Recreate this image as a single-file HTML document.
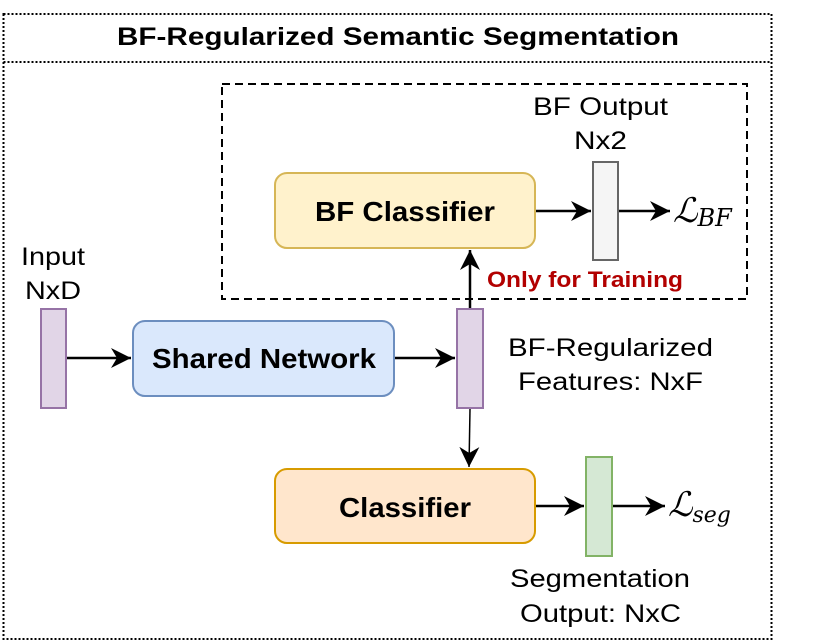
<!DOCTYPE html>
<html><head><meta charset="utf-8"><style>html,body{margin:0;padding:0;background:#fff}svg{display:block}</style></head>
<body>
<svg width="830" height="642" viewBox="0 0 830 642" xmlns="http://www.w3.org/2000/svg" font-family="Liberation Sans, Arial, sans-serif">
<defs>
<marker id="ah" markerWidth="22" markerHeight="22" refX="20" refY="10" orient="auto" markerUnits="userSpaceOnUse">
<path d="M0,0 L20,10 L0,20 L6,10 Z" fill="#000"/>
</marker>
</defs>
<rect x="3.5" y="14" width="768" height="625" fill="none" stroke="#000" stroke-width="2" stroke-dasharray="2,2"/>
<line x1="3.5" y1="62" x2="771.5" y2="62" stroke="#000" stroke-width="2" stroke-dasharray="2,2"/>
<text x="117" y="45" font-size="25" font-weight="bold" textLength="562" lengthAdjust="spacingAndGlyphs">BF-Regularized Semantic Segmentation</text>
<rect x="222" y="84" width="525" height="215" fill="none" stroke="#000" stroke-width="2" stroke-dasharray="8,5"/>
<rect x="275" y="173" width="260" height="75" rx="12" fill="#fff2cc" stroke="#d6b656" stroke-width="2"/>
<text x="315" y="221" font-size="28" font-weight="bold" textLength="180" lengthAdjust="spacingAndGlyphs">BF Classifier</text>
<rect x="593" y="162" width="25" height="98" fill="#f5f5f5" stroke="#666" stroke-width="2"/>
<text x="533" y="115" font-size="25" textLength="135" lengthAdjust="spacingAndGlyphs">BF Output</text>
<text x="574" y="149" font-size="25" textLength="53" lengthAdjust="spacingAndGlyphs">Nx2</text>
<line x1="536" y1="211" x2="591" y2="211" stroke="#000" stroke-width="2.5" marker-end="url(#ah)"/>
<line x1="619" y1="211" x2="670" y2="211" stroke="#000" stroke-width="2.5" marker-end="url(#ah)"/>
<text x="673" y="222" font-size="34" font-family="DejaVu Serif, serif" font-style="italic">ℒ<tspan font-size="24" dy="4">BF</tspan></text>
<text x="487" y="287" font-size="22" font-weight="bold" fill="#b20000" textLength="196" lengthAdjust="spacingAndGlyphs">Only for Training</text>
<text x="21" y="265" font-size="25" textLength="64" lengthAdjust="spacingAndGlyphs">Input</text>
<text x="25" y="299" font-size="25" textLength="56" lengthAdjust="spacingAndGlyphs">NxD</text>
<rect x="41" y="309" width="25" height="99" fill="#e1d5e7" stroke="#9673a6" stroke-width="2"/>
<line x1="67" y1="358" x2="131" y2="358" stroke="#000" stroke-width="2.5" marker-end="url(#ah)"/>
<rect x="133" y="321" width="261" height="75" rx="12" fill="#dae8fc" stroke="#6c8ebf" stroke-width="2"/>
<text x="152" y="368" font-size="28" font-weight="bold" textLength="224" lengthAdjust="spacingAndGlyphs">Shared Network</text>
<line x1="395" y1="358" x2="455" y2="358" stroke="#000" stroke-width="2.5" marker-end="url(#ah)"/>
<rect x="457" y="309" width="26" height="99" fill="#e1d5e7" stroke="#9673a6" stroke-width="2"/>
<line x1="470" y1="308" x2="470" y2="250" stroke="#000" stroke-width="2.5" marker-end="url(#ah)"/>
<text x="508" y="356" font-size="25" textLength="205" lengthAdjust="spacingAndGlyphs">BF-Regularized</text>
<text x="518" y="390" font-size="25" textLength="185" lengthAdjust="spacingAndGlyphs">Features: NxF</text>
<line x1="470" y1="409" x2="469" y2="467" stroke="#000" stroke-width="1.5" marker-end="url(#ah)"/>
<rect x="275" y="469" width="260" height="74" rx="12" fill="#ffe6cc" stroke="#d79b00" stroke-width="2"/>
<text x="339" y="517" font-size="28" font-weight="bold" textLength="132" lengthAdjust="spacingAndGlyphs">Classifier</text>
<rect x="586" y="457" width="26" height="99" fill="#d5e8d4" stroke="#82b366" stroke-width="2"/>
<line x1="536" y1="506" x2="584" y2="506" stroke="#000" stroke-width="2.5" marker-end="url(#ah)"/>
<line x1="613" y1="506" x2="665" y2="506" stroke="#000" stroke-width="2.5" marker-end="url(#ah)"/>
<text x="668" y="516" font-size="34" font-family="DejaVu Serif, serif" font-style="italic">ℒ<tspan font-size="22" dy="6">seg</tspan></text>
<text x="510" y="587" font-size="25" textLength="180" lengthAdjust="spacingAndGlyphs">Segmentation</text>
<text x="520" y="622" font-size="25" textLength="161" lengthAdjust="spacingAndGlyphs">Output: NxC</text>
</svg>
</body></html>
